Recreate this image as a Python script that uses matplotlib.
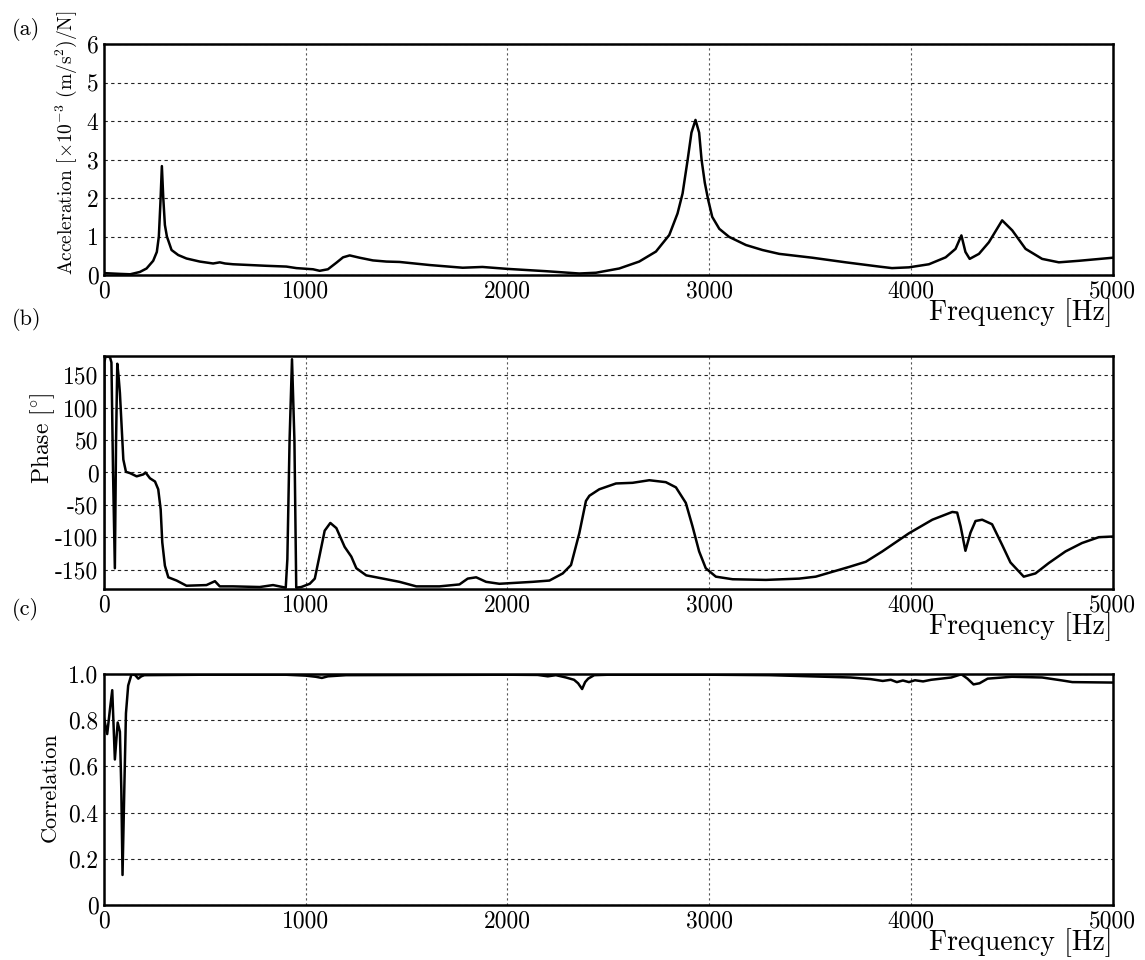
import matplotlib
matplotlib.use("Agg")
import matplotlib.pyplot as plt
from matplotlib.ticker import FixedLocator, FixedFormatter

plt.rcParams["font.family"] = "serif"
plt.rcParams["font.serif"] = ["cmr10", "DejaVu Serif"]
plt.rcParams["mathtext.fontset"] = "cm"
plt.rcParams["axes.unicode_minus"] = False
plt.rcParams["axes.formatter.use_mathtext"] = False

# (a) accelerance magnitude
acc_freq = [0, 40, 80, 130, 178, 211, 244, 262, 272, 280, 287, 294, 302, 312, 335, 368,
            409, 475, 541, 574, 600, 640, 805, 904, 954, 1036, 1069, 1110, 1152, 1185,
            1218, 1267, 1333, 1400, 1465, 1614, 1778, 1876, 2000, 2191, 2356, 2439, 2554,
            2653, 2736, 2802, 2843, 2868, 2893, 2912, 2932, 2950, 2962, 2978, 2995, 3015,
            3050, 3099, 3182, 3264, 3347, 3511, 3677, 3842, 3906, 3990, 4089, 4172, 4221,
            4250, 4270, 4291, 4337, 4386, 4452, 4502, 4568, 4650, 4733, 4832, 4980, 5000]
acc_val = [0.05, 0.04, 0.03, 0.02, 0.08, 0.17, 0.37, 0.6, 1.0, 1.9, 2.83, 2.0, 1.3, 1.0, 0.65,
           0.52, 0.43, 0.35, 0.30, 0.33, 0.30, 0.28, 0.24, 0.22, 0.18, 0.15, 0.11, 0.15, 0.32,
           0.46, 0.51, 0.45, 0.38, 0.35, 0.34, 0.26, 0.19, 0.21, 0.16, 0.10, 0.04, 0.06, 0.17,
           0.35, 0.61, 1.04, 1.60, 2.12, 2.99, 3.7, 4.03, 3.7, 3.0, 2.4, 1.95, 1.51, 1.2, 0.99,
           0.78, 0.65, 0.55, 0.45, 0.33, 0.22, 0.18, 0.2, 0.28, 0.46, 0.68, 1.03, 0.6, 0.42,
           0.55, 0.85, 1.42, 1.16, 0.68, 0.42, 0.33, 0.37, 0.44, 0.45]

# (b) phase
ph_freq = [0, 2, 8, 30, 37, 45, 54, 60, 66, 72, 79, 96, 109, 129, 162, 195, 206, 228, 253,
           269, 281, 289, 302, 319, 360, 409, 508, 550, 574, 640, 772, 838, 901, 909, 920,
           932, 944, 953, 978, 1020, 1045, 1069, 1094, 1122, 1152, 1193, 1226, 1251, 1300,
           1383, 1465, 1548, 1663, 1762, 1803, 1845, 1894, 1960, 2125, 2208, 2274, 2315,
           2356, 2389, 2406, 2455, 2538, 2620, 2703, 2785, 2835, 2884, 2917, 2950, 2983,
           3033, 3116, 3281, 3446, 3528, 3693, 3776, 3858, 3990, 4106, 4205, 4229, 4246,
           4270, 4295, 4320, 4353, 4402, 4452, 4493, 4559, 4617, 4683, 4766, 4848, 4931, 5000]
ph_val = [-180, 170, 180, 178, 170, 0, -148, 50, 168, 150, 123, 20, 1, -1, -6, -3, 0, -9,
          -14, -26, -57, -108, -144, -162, -167, -175, -174, -168, -176, -176, -177, -174,
          -178, -134, 50, 175, 50, -178, -177, -172, -164, -128, -90, -78, -86, -115, -130,
          -148, -159, -164, -169, -176, -176, -173, -164, -162, -169, -172, -169, -167, -156,
          -143, -94, -44, -36, -26, -17, -16, -12, -15, -23, -47, -83, -122, -148, -161, -165,
          -166, -164, -161, -146, -138, -122, -94, -73, -61, -62, -83, -121, -93, -75, -73,
          -80, -112, -139, -161, -156, -140, -122, -109, -100, -99]

# (c) correlation
cor_freq = [0, 16, 30, 41, 54, 68, 79, 86, 92, 101, 109, 120, 137, 155, 170, 185, 200, 500,
            900, 1000, 1050, 1080, 1110, 1200, 2000, 2150, 2200, 2240, 2290, 2330, 2350,
            2370, 2385, 2400, 2430, 2500, 3000, 3300, 3500, 3700, 3800, 3860, 3900, 3930,
            3960, 3990, 4020, 4060, 4100, 4200, 4250, 4280, 4310, 4340, 4380, 4500, 4650,
            4750, 4800, 5000]
cor_val = [0.81, 0.74, 0.85, 0.93, 0.63, 0.79, 0.75, 0.5, 0.13, 0.51, 0.83, 0.95, 1.0, 0.995,
           0.98, 0.99, 0.995, 0.997, 0.997, 0.993, 0.988, 0.983, 0.99, 0.995, 0.997, 0.996,
           0.99, 0.995, 0.985, 0.975, 0.96, 0.935, 0.965, 0.98, 0.995, 0.997, 0.997, 0.995,
           0.99, 0.985, 0.978, 0.97, 0.975, 0.965, 0.972, 0.965, 0.973, 0.968, 0.975, 0.985,
           0.999, 0.98, 0.955, 0.96, 0.98, 0.988, 0.985, 0.972, 0.965, 0.963]

x_ticks = [0, 1000, 2000, 3000, 4000, 5000]
acc_ticks = [0, 1, 2, 3, 4, 5, 6]
ph_ticks = [-150, -100, -50, 0, 50, 100, 150]
cor_ticks = [0, 0.2, 0.4, 0.6, 0.8, 1.0]
cor_labels = ["0", "0.2", "0.4", "0.6", "0.8", "1.0"]

FS = 17
FS_Y = 16
FS_X = 20

fig = plt.figure(figsize=(11.45, 9.6), dpi=100)
left, width = 0.0908, 0.881
ax_a = fig.add_axes([left, 0.7135, width, 0.2406])
ax_b = fig.add_axes([left, 0.3865, width, 0.2427])
ax_c = fig.add_axes([left, 0.0573, width, 0.2406])


def style(ax):
    ax.set_xlim(0, 5000)
    ax.xaxis.set_major_locator(FixedLocator(x_ticks))
    ax.tick_params(length=0, labelsize=FS, pad=4)
    for s in ax.spines.values():
        s.set_linewidth(1.8)
    ax.grid(True, axis="y", color="#222222", linestyle=(0, (3, 3)), linewidth=0.8)
    ax.grid(True, axis="x", color="#555555", linestyle=(0, (2, 2.5)), linewidth=0.8)
    ax.set_axisbelow(True)
    ax.set_xlabel("Frequency [Hz]", fontsize=FS_X, loc="right", labelpad=-3)


ax_a.plot(acc_freq, acc_val, color="black", lw=1.8)
ax_a.set_ylim(0, 6)
ax_a.yaxis.set_major_locator(FixedLocator(acc_ticks))
ax_a.set_ylabel(r"Acceleration [$\times$10$^{\mathrm{-3}}$ (m/s$^{2}$)/N]",
                fontsize=14, va="center")
ax_a.yaxis.set_label_coords(-0.0377, 0.574)
style(ax_a)

ax_b.plot(ph_freq, ph_val, color="black", lw=1.8)
ax_b.set_ylim(-180, 180)
ax_b.yaxis.set_major_locator(FixedLocator(ph_ticks))
ax_b.set_ylabel(r"Phase [$^{\circ}$]", fontsize=FS_Y + 1, va="center")
ax_b.yaxis.set_label_coords(-0.0605, 0.648)
style(ax_b)

ax_c.plot(cor_freq, cor_val, color="black", lw=1.8)
ax_c.set_ylim(0, 1)
ax_c.yaxis.set_major_locator(FixedLocator(cor_ticks))
ax_c.yaxis.set_major_formatter(FixedFormatter(cor_labels))
ax_c.set_ylabel("Correlation", fontsize=FS_Y, va="center")
ax_c.yaxis.set_label_coords(-0.0535, 0.51)
style(ax_c)

for lab, y in (("(a)", 0.969), ("(b)", 0.667), ("(c)", 0.365)):
    fig.text(0.010, y, lab, fontsize=FS_Y, ha="left", va="center")

fig.savefig("out.png", dpi=100)
